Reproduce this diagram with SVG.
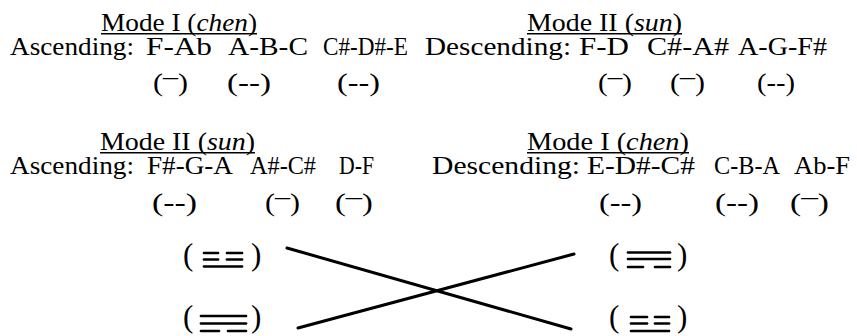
<svg xmlns="http://www.w3.org/2000/svg" width="857" height="336" viewBox="0 0 857 336">
<style>
.t{font-family:"Liberation Serif","Times New Roman",serif;font-size:26px;fill:#000}
.i{font-style:italic}
.p{font-family:"Liberation Serif","Times New Roman",serif;font-size:31px;fill:#000}
.ul{stroke:#000;stroke-width:1.4}
.tri{stroke:#000;stroke-width:2.7;stroke-linecap:round}
.conn{stroke:#000;stroke-width:3;stroke-linecap:round;fill:none}
</style>
<rect width="857" height="336" fill="#fff"/>

<g id="mode1-asc">
<text class="t" x="101" y="31" textLength="156" lengthAdjust="spacingAndGlyphs">Mode I (<tspan class="i">chen</tspan>)</text>
<line class="ul" x1="101" y1="33.8" x2="257" y2="33.8"/>
<text class="t" x="10" y="55" textLength="124" lengthAdjust="spacingAndGlyphs">Ascending:</text>
<text class="t" x="146" y="55" textLength="66" lengthAdjust="spacingAndGlyphs">F-Ab</text>
<text class="t" x="228" y="55" textLength="80" lengthAdjust="spacingAndGlyphs">A-B-C</text>
<text class="t" x="323" y="55" textLength="85" lengthAdjust="spacingAndGlyphs">C#-D#-E</text>
<text class="t" x="153" y="91" textLength="35" lengthAdjust="spacingAndGlyphs">(<tspan dy="-6">–</tspan><tspan dy="6">)</tspan></text>
<text class="t" x="227" y="91" textLength="44" lengthAdjust="spacingAndGlyphs">(--)</text>
<text class="t" x="337" y="91" textLength="43" lengthAdjust="spacingAndGlyphs">(--)</text>
</g>

<g id="mode2-desc">
<text class="t" x="527" y="31" textLength="155" lengthAdjust="spacingAndGlyphs">Mode II (<tspan class="i">sun</tspan>)</text>
<line class="ul" x1="527" y1="33.8" x2="682" y2="33.8"/>
<text class="t" x="425" y="55" textLength="146" lengthAdjust="spacingAndGlyphs">Descending:</text>
<text class="t" x="579" y="55" textLength="50" lengthAdjust="spacingAndGlyphs">F-D</text>
<text class="t" x="647" y="55" textLength="82" lengthAdjust="spacingAndGlyphs">C#-A#</text>
<text class="t" x="738" y="55" textLength="89" lengthAdjust="spacingAndGlyphs">A-G-F#</text>
<text class="t" x="598" y="91" textLength="34" lengthAdjust="spacingAndGlyphs">(<tspan dy="-6">–</tspan><tspan dy="6">)</tspan></text>
<text class="t" x="670" y="91" textLength="35" lengthAdjust="spacingAndGlyphs">(<tspan dy="-6">–</tspan><tspan dy="6">)</tspan></text>
<text class="t" x="757" y="91" textLength="38" lengthAdjust="spacingAndGlyphs">(--)</text>
</g>

<g id="mode2-asc">
<text class="t" x="100" y="150" textLength="155" lengthAdjust="spacingAndGlyphs">Mode II (<tspan class="i">sun</tspan>)</text>
<line class="ul" x1="100" y1="152.7" x2="255" y2="152.7"/>
<text class="t" x="10" y="174" textLength="124" lengthAdjust="spacingAndGlyphs">Ascending:</text>
<text class="t" x="147" y="174" textLength="86" lengthAdjust="spacingAndGlyphs">F#-G-A</text>
<text class="t" x="250" y="174" textLength="66" lengthAdjust="spacingAndGlyphs">A#-C#</text>
<text class="t" x="339" y="174" textLength="35" lengthAdjust="spacingAndGlyphs">D-F</text>
<text class="t" x="152" y="211" textLength="45" lengthAdjust="spacingAndGlyphs">(--)</text>
<text class="t" x="265" y="211" textLength="35" lengthAdjust="spacingAndGlyphs">(<tspan dy="-6">–</tspan><tspan dy="6">)</tspan></text>
<text class="t" x="335" y="211" textLength="38" lengthAdjust="spacingAndGlyphs">(<tspan dy="-6">–</tspan><tspan dy="6">)</tspan></text>
</g>

<g id="mode1-desc">
<text class="t" x="527" y="150" textLength="162" lengthAdjust="spacingAndGlyphs">Mode I (<tspan class="i">chen</tspan>)</text>
<line class="ul" x1="527" y1="152.7" x2="689" y2="152.7"/>
<text class="t" x="432" y="174" textLength="148" lengthAdjust="spacingAndGlyphs">Descending:</text>
<text class="t" x="587" y="174" textLength="108" lengthAdjust="spacingAndGlyphs">E-D#-C#</text>
<text class="t" x="714" y="174" textLength="66" lengthAdjust="spacingAndGlyphs">C-B-A</text>
<text class="t" x="794" y="174" textLength="56" lengthAdjust="spacingAndGlyphs">Ab-F</text>
<text class="t" x="599" y="211" textLength="43" lengthAdjust="spacingAndGlyphs">(--)</text>
<text class="t" x="715" y="211" textLength="44" lengthAdjust="spacingAndGlyphs">(--)</text>
<text class="t" x="790" y="211" textLength="39" lengthAdjust="spacingAndGlyphs">(<tspan dy="-6">–</tspan><tspan dy="6">)</tspan></text>
</g>

<g id="trigram-tl">
<text class="p" x="183" y="265">(</text>
<text class="p" x="251" y="265">)</text>
<line class="tri" x1="204" y1="253" x2="218" y2="253"/>
<line class="tri" x1="227" y1="253" x2="242" y2="253"/>
<line class="tri" x1="204" y1="259.5" x2="218" y2="259.5"/>
<line class="tri" x1="227" y1="259.5" x2="242" y2="259.5"/>
<line class="tri" x1="204" y1="266.5" x2="242" y2="266.5"/>
</g>

<g id="trigram-bl">
<text class="p" x="183" y="327">(</text>
<text class="p" x="251" y="327">)</text>
<line class="tri" x1="201" y1="316" x2="246" y2="316"/>
<line class="tri" x1="201" y1="323.5" x2="246" y2="323.5"/>
<line class="tri" x1="201" y1="331" x2="219" y2="331"/>
<line class="tri" x1="228" y1="331" x2="246" y2="331"/>
</g>

<g id="trigram-tr">
<text class="p" x="609" y="265">(</text>
<text class="p" x="677" y="265">)</text>
<line class="tri" x1="628" y1="252.5" x2="670" y2="252.5"/>
<line class="tri" x1="628" y1="259" x2="670" y2="259"/>
<line class="tri" x1="628" y1="267" x2="643" y2="267"/>
<line class="tri" x1="655" y1="267" x2="670" y2="267"/>
</g>

<g id="trigram-br">
<text class="p" x="609" y="327">(</text>
<text class="p" x="677" y="327">)</text>
<line class="tri" x1="631" y1="317" x2="647" y2="317"/>
<line class="tri" x1="655" y1="317" x2="669" y2="317"/>
<line class="tri" x1="631" y1="323.5" x2="647" y2="323.5"/>
<line class="tri" x1="655" y1="323.5" x2="669" y2="323.5"/>
<line class="tri" x1="631" y1="331" x2="669" y2="331"/>
</g>

<g id="connectors">
<path class="conn" d="M287,248 L571,329"/>
<path class="conn" d="M298,328 L574,254"/>
</g>
</svg>
